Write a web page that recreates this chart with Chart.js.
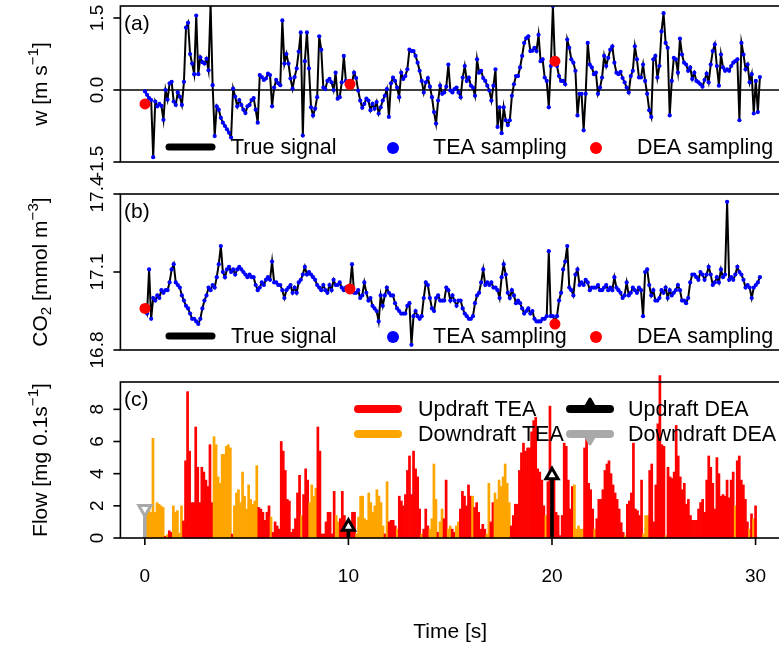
<!DOCTYPE html>
<html><head><meta charset="utf-8">
<script src="https://cdn.jsdelivr.net/npm/chart.js@4.4.1/dist/chart.umd.min.js"></script>
<style>
html,body{margin:0;padding:0;background:#fff;overflow:hidden;width:779px;height:646px;}
#wrap{position:relative;width:779px;height:646px;overflow:hidden;background:#fff;}
canvas{position:absolute;left:0;top:0;}
</style></head><body><div id="wrap">
<canvas id="ca" width="790" height="646"></canvas>
<canvas id="cb" width="790" height="646"></canvas>
<canvas id="cc" width="790" height="646"></canvas>
</div>
<script>
// ---------------- data ----------------
const timeStep = 0.1; // s, 10 Hz
// vertical wind w [m s-1], t = 0.0 ... 30.0
const wTrue = [
 -0.03,-0.10,-0.17,-0.21,-1.40,-0.24,-0.34,-0.29,-0.33,-0.62,
  0.00,-0.20, 0.14, 0.17,-0.24,-0.31,-0.05,-0.14,-0.31, 0.17,
  1.30, 1.40, 0.75, 0.55, 0.33, 1.55, 0.33, 0.68, 0.58, 0.55,
  0.65, 0.41, 1.80, 0.10,-0.96,-0.34,-0.41,-0.58,-0.68,-0.75,
 -0.82,-0.89,-0.99, 0.03,-0.14,-0.34,-0.21,-0.31,-0.41,-0.48,
 -0.34,-0.31,-0.21,-0.17,-0.41,-0.68, 0.31, 0.27, 0.21, 0.24,
  0.34, 0.31,-0.34, 0.05, 0.21, 0.14, 0.10, 1.45, 0.55, 0.75,
  0.55, 0.24, 0.03, 0.27, 0.45, 0.80, 1.20,-0.95, 0.60, 1.20,
  0.45,-0.36,-0.53,-0.39,-0.15, 1.12, 0.84, 0.05, 0.02, 0.19,
  0.23, 0.16, 0.00, 0.36,-0.18,-0.15, 0.16, 0.71, 0.19, 0.09,
  0.09, 0.16, 0.36, 0.25,-0.01,-0.22,-0.37,-0.29,-0.18,-0.22,
 -0.42,-0.29,-0.39,-0.25,-0.49,-0.36,-0.22,-0.12, 0.02,-0.56,
  0.14, 0.26, 0.19, 0.05,-0.15, 0.36, 0.23, 0.29, 0.43, 0.84,
  0.81, 0.81, 0.71, 0.57, 0.40, 0.19,-0.05, 0.16, 0.25, 0.07,
 -0.15,-0.46,-0.70,-0.22, 0.09,-0.08,-0.05, 0.07, 0.53,-0.01,
 -0.05, 0.02, 0.05,-0.05,-0.15, 0.26, 0.50, 0.19, 0.26, 0.09,
  0.05,-0.12, 0.64, 0.36, 0.40, 0.25, 0.19, 0.09,-0.01,-0.22,
  0.09, 0.43,-0.77,-0.36,-0.90,-0.36,-0.63,-0.73,-0.63,-0.12,
  0.12, 0.29, 0.29, 0.47, 0.71, 0.98, 1.08, 1.12, 0.81, 0.82,
  0.88, 0.81, 1.15, 0.60, 0.64, 0.26, 0.19,-0.36, 0.50, 1.75,
  0.57, 0.50, 0.29, 0.19, 0.19, 0.12, 1.05, 0.88, 0.64, 0.57,
  0.40,-0.53,-0.08,-0.08,-0.84,-0.08, 0.98, 0.53, 0.47, 0.33,
  0.36,-0.08, 0.05, 0.26, 0.71, 0.50, 0.67, 0.84, 0.91, 0.57,
  0.36, 0.33, 0.38, 0.25, 0.16, 0.05,-0.05, 0.29, 0.40, 0.91,
  0.64, 0.26, 0.26, 0.53, 0.19,-0.08,-0.42,-0.56, 0.64, 0.71,
  0.26, 0.50, 1.22, 1.60, 0.98, 0.88,-0.53, 0.19, 0.67, 0.64,
  0.36, 1.07, 0.74, 0.57, 0.53, 0.40, 0.47, 0.23, 0.36, 0.19,
  0.16, 0.12, 0.07, 0.21, 0.34, 0.16, 0.53, 0.81, 0.95, 0.50,
  0.09, 0.74, 0.47, 0.40, 0.43, 0.40, 0.50, 0.57, 0.60, 0.64,
 -0.63, 0.98, 0.74, 0.43, 0.53, 0.16, 0.33,-0.49, 0.19,-0.46,
  0.27];
// CO2 concentration [mmol m-3]
const co2True = [
 16.96,16.94,17.11,16.92,17.00,16.99,17.01,17.00,17.03,17.02,
 17.03,17.03,17.06,17.11,17.13,17.06,17.05,17.04,17.01,16.99,
 16.97,16.96,16.94,16.92,16.92,16.91,16.90,16.92,16.96,16.99,
 17.01,17.04,17.03,17.05,17.04,17.08,17.13,17.20,17.10,17.08,
 17.11,17.12,17.10,17.11,17.09,17.11,17.12,17.11,17.10,17.09,
 17.08,17.09,17.08,17.08,17.05,17.03,17.04,17.06,17.05,17.07,
 17.08,17.07,17.14,17.06,17.06,17.05,17.05,17.03,17.00,17.03,
 17.04,17.05,17.02,17.04,17.02,17.06,17.07,17.09,17.12,17.09,
 17.10,17.09,17.08,17.07,17.05,17.04,17.03,17.05,17.03,17.02,
 17.05,17.03,17.07,17.05,17.05,17.06,17.04,17.03,17.04,17.03,
 17.04,17.13,17.02,17.02,17.03,17.00,17.01,17.06,17.02,16.99,
 17.00,16.97,16.96,16.95,16.91,17.01,16.97,17.01,17.04,17.02,
 17.01,17.01,16.98,16.96,16.95,16.94,16.94,16.94,16.97,16.98,
 16.82,16.93,16.95,16.93,16.92,16.93,17.00,17.06,17.05,17.00,
 16.96,16.95,17.00,17.01,16.99,16.99,16.99,17.04,17.03,16.99,
 17.01,16.99,16.97,16.99,16.99,16.96,16.94,16.93,16.92,16.92,
 16.93,16.98,17.01,17.02,17.06,17.11,17.05,17.06,17.05,17.06,
 17.04,17.04,17.03,17.00,17.08,17.13,17.09,17.02,17.00,17.03,
 17.01,16.98,16.99,16.98,16.96,16.94,16.95,16.96,16.94,16.95,
 16.92,16.91,16.91,16.91,16.92,16.92,16.93,17.18,16.93,16.93,
 16.91,16.93,16.99,17.02,17.11,17.14,17.20,17.04,17.03,17.01,
 17.09,17.11,17.05,17.06,17.05,17.07,17.06,17.03,17.04,17.04,
 17.04,17.05,17.03,17.03,17.04,17.05,17.03,17.04,17.03,17.08,
 17.04,17.03,17.02,17.00,17.01,17.06,17.01,17.02,17.04,17.03,
 17.02,17.04,17.03,16.93,17.10,17.11,17.05,17.01,17.03,16.99,
 16.99,17.00,17.03,17.02,17.04,17.00,17.03,17.01,17.02,17.03,
 17.05,17.03,16.99,16.99,16.98,17.00,17.06,17.09,17.09,17.08,
 17.07,17.10,17.09,17.07,17.09,17.12,17.09,17.05,17.06,17.08,
 17.06,17.11,17.08,17.09,17.37,17.07,17.08,17.07,17.09,17.12,
 17.10,17.09,17.07,17.04,17.05,17.04,17.00,17.04,17.05,17.06,
 17.08];
// TEA flow magnitude [mg 0.1s-1]
const flowTEA = [
 1.8,1.7,1.9,1.6,6.2,1.6,2.2,2.1,2.0,1.9,
 0.1,0.2,0.45,0.35,2.0,1.6,1.7,0.3,2.0,1.06,
 4.8,9.1,5.4,2.2,2.2,6.9,4.4,2.2,4.4,4.1,
 3.6,3.2,5.8,2.2,6.3,5.8,3.8,3.4,5.2,5.2,
 5.7,5.8,5.6,0.24,2.0,2.8,3.0,2.2,4.1,2.6,
 1.8,3.3,2.4,2.1,2.3,4.5,1.9,1.8,1.6,1.1,
 1.6,2.0,1.3,0.35,1.0,0.75,0.55,6.0,5.4,4.2,
 2.4,2.3,0.35,0.55,1.2,2.8,3.9,1.4,2.7,4.3,
 3.6,2.2,3.3,2.6,3.1,6.9,5.4,0.25,0.25,1.0,
 1.6,1.6,0.25,2.9,1.4,1.0,1.2,2.9,1.4,1.0,
 0.65,1.0,1.6,1.6,0.25,1.3,2.6,2.6,1.2,1.1,
 2.8,2.2,1.6,2.0,3.0,2.6,2.2,0.75,0.25,3.5,
 1.0,1.1,1.1,0.75,0.55,2.6,2.3,2.0,2.7,4.2,
 5.1,2.7,5.4,4.3,3.8,1.8,0.25,0.55,1.8,0.75,
 0.55,1.2,4.6,2.4,0.35,1.0,1.8,1.2,3.6,0.55,
 0.75,0.55,0.35,0.75,1.0,1.8,2.9,2.6,2.0,3.3,
 2.6,2.6,1.9,2.2,1.6,0.55,0.85,0.55,0.25,3.4,
 1.0,2.2,2.8,2.4,3.6,3.2,3.8,4.6,3.4,2.2,
 0.75,1.4,2.1,2.1,4.2,5.3,5.9,5.4,5.6,5.6,
 6.6,7.3,7.5,4.3,4.1,3.6,2.0,1.4,3.5,8.2,
 3.6,3.6,1.6,1.4,0.15,1.4,5.9,5.7,3.6,1.8,
 3.2,3.3,0.55,0.75,0.55,0.55,5.6,6.3,3.4,3.0,
 1.8,0.55,1.2,2.4,2.4,3.0,4.2,4.6,4.8,4.0,
 3.3,2.8,2.4,1.8,0.95,0.35,0.15,2.1,2.3,2.8,
 5.9,1.8,1.7,1.4,3.6,0.25,1.4,1.4,4.2,4.6,
 1.0,3.3,7.1,10.1,5.8,5.7,0.15,4.4,3.8,3.7,
 4.1,7.0,5.1,3.8,3.0,3.4,2.1,2.4,1.4,1.1,
 1.1,1.1,1.8,2.2,2.4,1.6,3.6,5.1,4.4,3.4,
 1.8,5.0,4.0,2.6,2.7,2.6,3.6,2.5,3.6,4.1,
 2.0,4.8,5.1,3.6,3.3,2.4,1.0,0.55,1.5,1.2,
 2.0];
// DEA samples
const deaTime = [0, 10, 20];
const deaW    = [-0.29, 0.12, 0.60];
const deaCO2  = [16.96, 17.035, 16.90];
const deaFlow = [1.8, 0.7, 3.9];
// ticks
const timeTicks = [0, 10, 20, 30];
const wTicks = [-1.5, 0, 1.5];
const wTickLabels = ['-1.5', '0.0', '1.5'];
const co2Ticks = [16.8, 17.1, 17.4];
const co2TickLabels = ['16.8', '17.1', '17.4'];
const flowTicks = [0, 2, 4, 6, 8];
const flowTickLabels = ['0', '2', '4', '6', '8'];
const legendAB = ['True signal', 'TEA sampling', 'DEA sampling'];
const legendC = ['Updraft TEA', 'Downdraft TEA', 'Updraft DEA', 'Downdraft DEA'];

// ---------------- helpers ----------------
const time = wTrue.map((_, i) => Math.round(i * timeStep * 10) / 10);
const pts = ys => ys.map((y, i) => ({x: time[i], y}));
const deaPts = ys => ys.map((y, i) => ({x: deaTime[i], y}));
const deaUp = deaTime.map((t, i) => ({x: t, y: deaFlow[i], up: deaW[i] >= 0})).filter(p => p.up).map(p => ({x: p.x, y: p.y}));
const deaDown = deaTime.map((t, i) => ({x: t, y: deaFlow[i], up: deaW[i] >= 0})).filter(p => !p.up).map(p => ({x: p.x, y: p.y}));

const FONT = '"Liberation Sans", Arial, Helvetica, sans-serif';
const RED = '#FF0000', ORANGE = '#FFA500', BLUE = '#0000FF', GRAY = '#A9A9A9';
const X_MIN = -1.2, X_MAX = 31.2;
const BOX_LEFT = 120.4, BOX_RIGHT = 784.6, CW = 790, CH = 646;
const TICK_FONT = 19, TITLE_FONT = 21;

function drawRich(ctx, parts, cx, cy, size, rotate) {
  ctx.save();
  ctx.translate(cx, cy);
  if (rotate) ctx.rotate(-Math.PI / 2);
  let total = 0;
  const segs = parts.map(p => {
    const s = (p.sup || p.sub) ? size * 0.72 : size;
    ctx.font = s + 'px ' + FONT;
    const w = ctx.measureText(p.t).width;
    total += w;
    return {p, s, w};
  });
  let x = -total / 2;
  ctx.textBaseline = 'middle'; ctx.textAlign = 'left'; ctx.fillStyle = '#000';
  for (const g of segs) {
    ctx.font = g.s + 'px ' + FONT;
    const dy = g.p.sup ? -size * 0.36 : (g.p.sub ? size * 0.26 : 0);
    ctx.fillText(g.p.t, x, dy);
    x += g.w;
  }
  ctx.restore();
}

function roundLine(ctx, x1, x2, y, color, lw) {
  ctx.save(); ctx.strokeStyle = color; ctx.lineWidth = lw; ctx.lineCap = 'round';
  ctx.beginPath(); ctx.moveTo(x1, y); ctx.lineTo(x2, y); ctx.stroke(); ctx.restore();
}
function dot(ctx, x, y, r, color) {
  ctx.save(); ctx.fillStyle = color; ctx.beginPath(); ctx.arc(x, y, r, 0, Math.PI * 2); ctx.fill(); ctx.restore();
}
function tri(ctx, x, y, r, color, down) {
  ctx.save(); ctx.fillStyle = color; ctx.strokeStyle = color; ctx.lineWidth = 3; ctx.lineJoin = 'round';
  const s = down ? -1 : 1;
  ctx.beginPath();
  ctx.moveTo(x, y - s * r);
  ctx.lineTo(x + r * 0.866, y + s * r * 0.5);
  ctx.lineTo(x - r * 0.866, y + s * r * 0.5);
  ctx.closePath(); ctx.fill(); ctx.stroke(); ctx.restore();
}

function panelPlugin(cfg) {
  return {
    id: 'panel' + cfg.tag,
    beforeDatasetsDraw(chart) {
      if (cfg.zeroLine) {
        const {ctx, chartArea: a, scales} = chart;
        const py = scales.y.getPixelForValue(0);
        ctx.save(); ctx.strokeStyle = '#000'; ctx.lineWidth = 1.6;
        ctx.beginPath(); ctx.moveTo(a.left, py); ctx.lineTo(a.right, py); ctx.stroke(); ctx.restore();
      }
    },
    afterDraw(chart) {
      const {ctx, chartArea: a, scales} = chart;
      ctx.save();
      ctx.strokeStyle = '#000'; ctx.lineWidth = 1.6;
      ctx.strokeRect(a.left, a.top, a.right - a.left, a.bottom - a.top);
      // y ticks
      cfg.ticks.forEach((v, i) => {
        const py = scales.y.getPixelForValue(v);
        ctx.beginPath(); ctx.moveTo(a.left - 7, py); ctx.lineTo(a.left, py); ctx.stroke();
        drawRich(ctx, [{t: cfg.tickLabels[i]}], 98, py, TICK_FONT, true);
      });
      // y title
      drawRich(ctx, cfg.title, 41, (a.top + a.bottom) / 2, TITLE_FONT, true);
      // panel tag
      ctx.font = '21px ' + FONT; ctx.fillStyle = '#000'; ctx.textAlign = 'left'; ctx.textBaseline = 'middle';
      ctx.fillText('(' + cfg.tag + ')', 124, a.top + 18);
      // x axis
      if (cfg.xAxis) {
        timeTicks.forEach(v => {
          const px = scales.x.getPixelForValue(v);
          ctx.beginPath(); ctx.moveTo(px, a.bottom); ctx.lineTo(px, a.bottom + 7); ctx.stroke();
          drawRich(ctx, [{t: String(v)}], px, 577, TICK_FONT, false);
        });
        drawRich(ctx, [{t: 'Time [s]'}], (a.left + a.right) / 2, 632, TITLE_FONT, false);
      }
      if (cfg.legend) cfg.legend(ctx, a);
      ctx.restore();
    }
  };
}

function legendAB_draw(yy) {
  return (ctx) => {
    roundLine(ctx, 169, 212, yy, '#000', 7);
    ctx.font = '21.5px ' + FONT; ctx.fillStyle = '#000'; ctx.textAlign = 'left'; ctx.textBaseline = 'middle';
    ctx.fillText(legendAB[0], 231, yy + 1);
    dot(ctx, 393, yy + 1, 6, BLUE);
    ctx.fillText(legendAB[1], 433, yy + 1);
    dot(ctx, 596, yy + 1, 6, RED);
    ctx.fillText(legendAB[2], 637, yy + 1);
  };
}
function legendC_draw(ctx) {
  ctx.font = '21.5px ' + FONT; ctx.fillStyle = '#000'; ctx.textAlign = 'left'; ctx.textBaseline = 'middle';
  roundLine(ctx, 358, 398, 409, RED, 8);
  ctx.fillText(legendC[0], 418, 410);
  roundLine(ctx, 358, 398, 434, ORANGE, 8);
  ctx.fillText(legendC[1], 418, 435);
  roundLine(ctx, 570, 610, 409, '#000', 8);
  tri(ctx, 590, 407, 8, '#000', false);
  ctx.fillStyle = '#000';
  ctx.fillText(legendC[2], 628, 410);
  roundLine(ctx, 570, 610, 434, GRAY, 8);
  tri(ctx, 590, 436, 8, GRAY, true);
  ctx.fillStyle = '#000';
  ctx.fillText(legendC[3], 628, 435);
}

const xScale = () => ({type: 'linear', min: X_MIN, max: X_MAX, display: false, offset: false});
const baseOpts = (top, bottom, ymin, ymax) => ({
  responsive: false, animation: false, events: [],
  layout: {padding: {left: BOX_LEFT, right: CW - BOX_RIGHT, top: top, bottom: CH - bottom}},
  plugins: {legend: {display: false}, tooltip: {enabled: false}},
  scales: {x: xScale(), y: {type: 'linear', min: ymin, max: ymax, display: false}}
});

// ---------------- panel (a) ----------------
new Chart(document.getElementById('ca'), {
  type: 'scatter',
  data: {datasets: [
    {label: legendAB[0], data: pts(wTrue), showLine: true, borderColor: '#000', borderWidth: 2, pointRadius: 0, order: 3},
    {label: legendAB[1], data: pts(wTrue), showLine: false, pointRadius: 2.1, backgroundColor: BLUE, borderWidth: 0, order: 2},
    {label: legendAB[2], data: deaPts(deaW), showLine: false, pointRadius: 5.5, backgroundColor: RED, borderWidth: 0, order: 1}
  ]},
  options: baseOpts(6, 162, -1.5, 1.75),
  plugins: [panelPlugin({tag: 'a', zeroLine: true, ticks: wTicks, tickLabels: wTickLabels,
    title: [{t: 'w [m s'}, {t: '\u22121', sup: true}, {t: ']'}], legend: legendAB_draw(147)})]
});

// ---------------- panel (b) ----------------
new Chart(document.getElementById('cb'), {
  type: 'scatter',
  data: {datasets: [
    {label: legendAB[0], data: pts(co2True), showLine: true, borderColor: '#000', borderWidth: 2, pointRadius: 0, order: 3},
    {label: legendAB[1], data: pts(co2True), showLine: false, pointRadius: 2.1, backgroundColor: BLUE, borderWidth: 0, order: 2},
    {label: legendAB[2], data: deaPts(deaCO2), showLine: false, pointRadius: 5.5, backgroundColor: RED, borderWidth: 0, order: 1}
  ]},
  options: baseOpts(194, 350, 16.8, 17.4),
  plugins: [panelPlugin({tag: 'b', ticks: co2Ticks, tickLabels: co2TickLabels,
    title: [{t: 'CO'}, {t: '2', sub: true}, {t: ' [mmol m'}, {t: '\u22123', sup: true}, {t: ']'}], legend: legendAB_draw(336)})]
});

// ---------------- panel (c) ----------------
new Chart(document.getElementById('cc'), {
  type: 'bar',
  data: {datasets: [
    {label: 'TEA flow', data: pts(flowTEA), grouped: false, barPercentage: 1, categoryPercentage: 1,
      backgroundColor: c => (wTrue[c.dataIndex] >= 0 ? RED : ORANGE), borderWidth: 0, clip: false, order: 4},
    {label: legendC[3], data: deaDown, grouped: false, barThickness: 3, backgroundColor: GRAY, borderWidth: 0, order: 3},
    {label: legendC[2], data: deaUp, grouped: false, barThickness: 3, backgroundColor: '#000', borderWidth: 0, order: 3},
    {type: 'scatter', label: legendC[3] + ' marker', data: deaDown, pointStyle: 'triangle', rotation: 180, pointRadius: 7,
      borderColor: GRAY, borderWidth: 3, backgroundColor: '#fff', order: 1},
    {type: 'scatter', label: legendC[2] + ' marker', data: deaUp, pointStyle: 'triangle', pointRadius: 7,
      borderColor: '#000', borderWidth: 3, backgroundColor: '#fff', order: 1}
  ]},
  options: baseOpts(382, 538, 0, 9.7),
  plugins: [panelPlugin({tag: 'c', xAxis: true, ticks: flowTicks, tickLabels: flowTickLabels,
    title: [{t: 'Flow [mg 0.1s'}, {t: '\u22121', sup: true}, {t: ']'}], legend: legendC_draw})]
});
</script></body></html>
